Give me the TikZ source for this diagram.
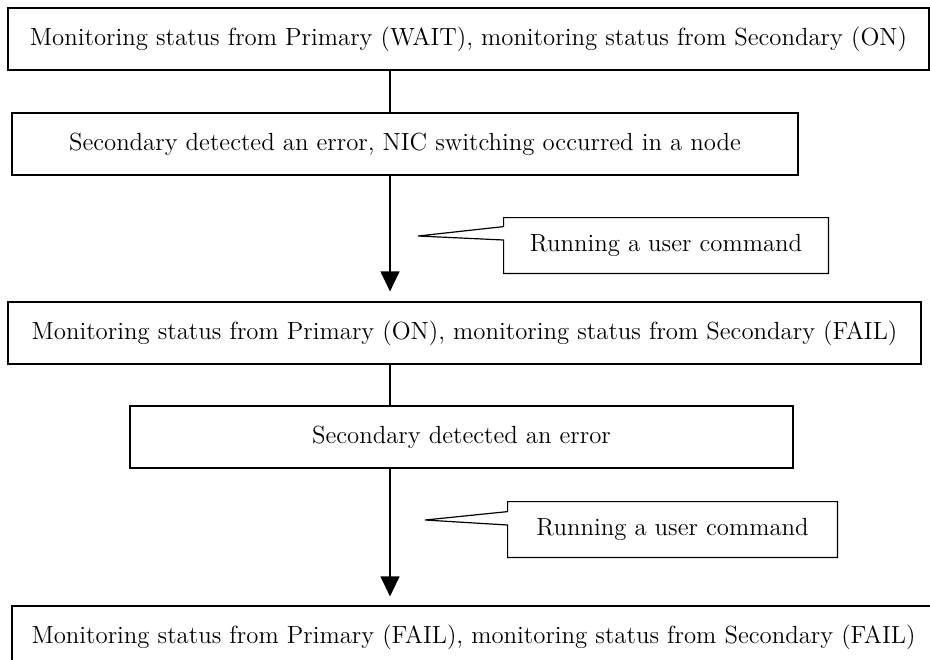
\documentclass[tikz,border=0pt]{standalone}
\usepackage{tikz}
\usetikzlibrary{arrows.meta}
\tikzset{
  statebox/.style={draw,black,line width=0.6pt,inner sep=0pt,minimum height=31pt},
  cmdbox/.style={inner sep=0pt,minimum height=27.5pt},
}

\begin{document}
\begin{tikzpicture}[x=0.5pt,y=-0.5pt,font=\fontsize{12.4}{15}\selectfont]
  \useasboundingbox (0,0) rectangle (930,659);
  \coordinate (spine) at (390,0);

  \node[statebox,minimum width=460.5pt] (waiton) at (468.5,39) {Monitoring status from Primary (WAIT), monitoring status from Secondary (ON)};
  \node[statebox,minimum width=393pt] (nicswitch) at (405,144) {Secondary detected an error, NIC switching occurred in a node};
  \node[statebox,minimum width=456.5pt] (onfail) at (464.5,333) {Monitoring status from Primary (ON), monitoring status from Secondary (FAIL)};
  \node[statebox,minimum width=331.5pt] (secerr) at (461.5,437) {Secondary detected an error};
  \node[statebox,minimum width=461.5pt] (failfail) at (473.5,637) {Monitoring status from Primary (FAIL), monitoring status from Secondary (FAIL)};

  \draw [black,line width=0.6pt] (spine |- waiton.south) -- (spine |- nicswitch.north);
  \draw [-{Triangle[width=9.5pt,length=10pt]}][black,line width=0.6pt,shorten >=5pt] (spine |- nicswitch.south) -- (spine |- onfail.north);
  \draw [black,line width=0.6pt] (spine |- onfail.south) -- (spine |- secerr.north);
  \draw [-{Triangle[width=9.5pt,length=10pt]}][black,line width=0.6pt,shorten >=4.5pt] (spine |- secerr.south) -- (spine |- failfail.north);

  % user command callouts
  \node[cmdbox,minimum width=162pt] (cmdone) at (666,245.5) {Running a user command};
  \coordinate (tipone) at (418,236);
  \draw [black,line width=0.6pt] (cmdone.north west) -- ++(0,9) -- (tipone) -- (cmdone.west |- 0,240)
    -- (cmdone.south west) -- (cmdone.south east) -- (cmdone.north east) -- cycle;

  \node[cmdbox,minimum width=164.5pt] (cmdtwo) at (672.5,529.5) {Running a user command};
  \coordinate (tiptwo) at (425,520);
  \draw [black,line width=0.6pt] (cmdtwo.north west) -- ++(0,10) -- (tiptwo) -- (cmdtwo.west |- 0,525)
    -- (cmdtwo.south west) -- (cmdtwo.south east) -- (cmdtwo.north east) -- cycle;
\end{tikzpicture}
\end{document}
